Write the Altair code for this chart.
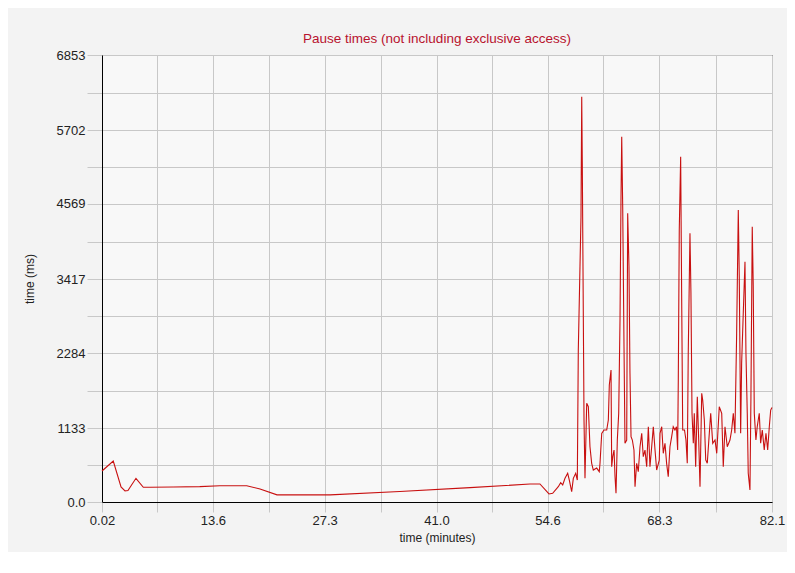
import altair as alt
import pandas as pd

# time (minutes)
t_min = [0.02, 1.40, 2.35, 2.84, 3.20, 4.18, 5.08, 5.90, 8.75, 12.0, 14.47, 17.75, 19.38, 21.46,
         27.95, 36.5, 45.1, 52.45, 53.67, 54.78, 55.23, 55.92, 56.21, 56.46, 56.74, 57.07, 57.27,
         57.56, 57.76, 58.05, 58.25, 58.37, 58.70, 58.79, 58.86, 59.07, 59.19, 59.40, 59.60, 59.80,
         60.01, 60.21, 60.62, 60.94, 61.03, 61.24, 61.52, 61.85, 62.05, 62.17, 62.38, 62.46, 62.59,
         62.75, 62.87, 62.99, 63.15, 63.32, 63.48, 63.60, 63.69, 63.81, 63.97, 64.09, 64.30, 64.42,
         64.58, 64.70, 64.83, 64.99, 65.19, 65.32, 65.52, 65.72, 65.93, 66.14, 66.33, 66.54, 66.75,
         66.95, 67.15, 67.36, 67.56, 67.77, 67.97, 68.29, 68.38, 68.59, 68.78, 68.99, 69.19, 69.39,
         69.60, 69.81, 70.00, 70.21, 70.40, 70.54, 70.62, 70.74, 70.91, 71.03, 71.16, 71.38, 71.56,
         71.72, 71.84, 72.05, 72.17, 72.30, 72.46, 72.58, 72.75, 72.95, 73.12, 73.28, 73.49, 73.61,
         73.81, 73.98, 74.17, 74.42, 74.59, 74.84, 75.12, 75.33, 75.64, 75.94, 76.13, 76.34, 76.62,
         76.95, 77.16, 77.36, 77.56, 77.77, 77.97, 78.09, 78.26, 78.38, 78.58, 78.79, 78.91, 79.07,
         79.19, 79.40, 79.52, 79.68, 79.80, 79.93, 80.13, 80.29, 80.54, 80.71, 80.91, 81.15, 81.36,
         81.57, 81.77, 81.94, 82.1]

# pause time (ms)
pause_ms = [475, 628, 230, 170, 175, 363, 225, 225, 230, 235, 250, 250, 200, 110,
            110, 160, 220, 276, 276, 123, 133, 235, 296, 261, 363, 440, 337,
            158, 363, 440, 337, 2330, 4374, 6213, 5192, 1257, 363, 1513, 1461, 848,
            593, 490, 520, 465, 593, 1053, 1104, 1104, 1257, 1794, 2024, 541, 695,
            797, 388, 133, 950, 1360, 2790, 4656, 5600, 4527, 2381, 900, 950, 4426,
            3607, 1973, 1001, 950, 797, 235, 593, 465, 848, 1053, 695, 797, 541,
            1154, 541, 848, 1154, 797, 490, 640, 1053, 1154, 746, 900, 593, 388,
            848, 1001, 1154, 1104, 1154, 797, 1870, 4170, 5293, 3199, 1104, 1104, 950,
            593, 2280, 4119, 3199, 1360, 900, 1360, 541, 1614, 950, 235, 1666, 1564,
            1257, 646, 593, 1053, 1360, 900, 950, 746, 1461, 1360, 541, 1154, 848,
            950, 1104, 1360, 1053, 2586, 4476, 3454, 1053, 2126, 2893, 3684, 2280, 1360,
            440, 184, 1614, 4220, 3327, 1360, 950, 1154, 1360, 900, 1104, 797, 1053,
            797, 1154, 1410, 1450]

x_labels = [0.02, 13.6, 27.3, 41.0, 54.6, 68.3, 82.1]
x_label_text = ["0.02", "13.6", "27.3", "41.0", "54.6", "68.3", "82.1"]
y_labels = [0, 1133, 2284, 3417, 4569, 5702, 6853]
y_label_text = ["0.0", "1133", "2284", "3417", "4569", "5702", "6853"]

df = pd.DataFrame({"t": t_min, "ms": pause_ms})

# tick/grid positions: labelled values plus the midpoints between them
x_ticks = []
for i, v in enumerate(x_labels):
    x_ticks.append(v)
    if i + 1 < len(x_labels):
        x_ticks.append(round((v + x_labels[i + 1]) / 2, 3))
y_ticks = []
for i, v in enumerate(y_labels):
    y_ticks.append(v)
    if i + 1 < len(y_labels):
        y_ticks.append(round((v + y_labels[i + 1]) / 2, 3))


def label_expr(vals, texts):
    expr = "''"
    for v, s in zip(vals, texts):
        expr = f"(abs(datum.value - {v}) < 1e-6 ? '{s}' : {expr})"
    return expr


FONT = "Liberation Sans"

chart = alt.Chart(df).mark_line(color="#c81010", strokeWidth=1.1, interpolate="linear").encode(
    x=alt.X("t:Q", title="time (minutes)",
            scale=alt.Scale(domain=[0.02, 82.1], nice=False, zero=False),
            axis=alt.Axis(values=x_ticks, labelExpr=label_expr(x_labels, x_label_text),
                          grid=True, gridColor="#c8c8c8", gridWidth=1,
                          tickSize=10, tickColor="#c8c8c8", labelPadding=2,
                          domainColor="#000000", labelFont=FONT, labelFontSize=13,
                          labelColor="#222222", titleFont=FONT, titleFontSize=12,
                          titleFontWeight="normal", titleColor="#222222", titlePadding=5,
                          labelOverlap=False, labelFlush=False)),
    y=alt.Y("ms:Q", title="time (ms)",
            scale=alt.Scale(domain=[0, 6853], nice=False),
            axis=alt.Axis(values=y_ticks, labelExpr=label_expr(y_labels, y_label_text),
                          grid=True, gridColor="#c8c8c8", gridWidth=1,
                          tickSize=15, tickColor="#c8c8c8", labelPadding=2,
                          domainColor="#000000", labelFont=FONT, labelFontSize=13,
                          labelColor="#222222", titleFont=FONT, titleFontSize=12,
                          titleFontWeight="normal", titleColor="#222222", titlePadding=20,
                          labelOverlap=False, labelFlush=False)),
).properties(
    width=670,
    height=447,
    title=alt.TitleParams("Pause times (not including exclusive access)", font=FONT,
                          fontSize=13.5, fontWeight="normal", color="#b8122e",
                          anchor="middle", offset=4),
    autosize=alt.AutoSizeParams(type="none"),
    padding={"left": 94, "top": 47, "right": 15, "bottom": 50},
    background="#f3f3f3",
).configure_view(
    stroke="#000000", strokeWidth=1, fill="#f8f8f8"
)

chart.save("out.html", embed_options={"renderer": "svg", "actions": False})
